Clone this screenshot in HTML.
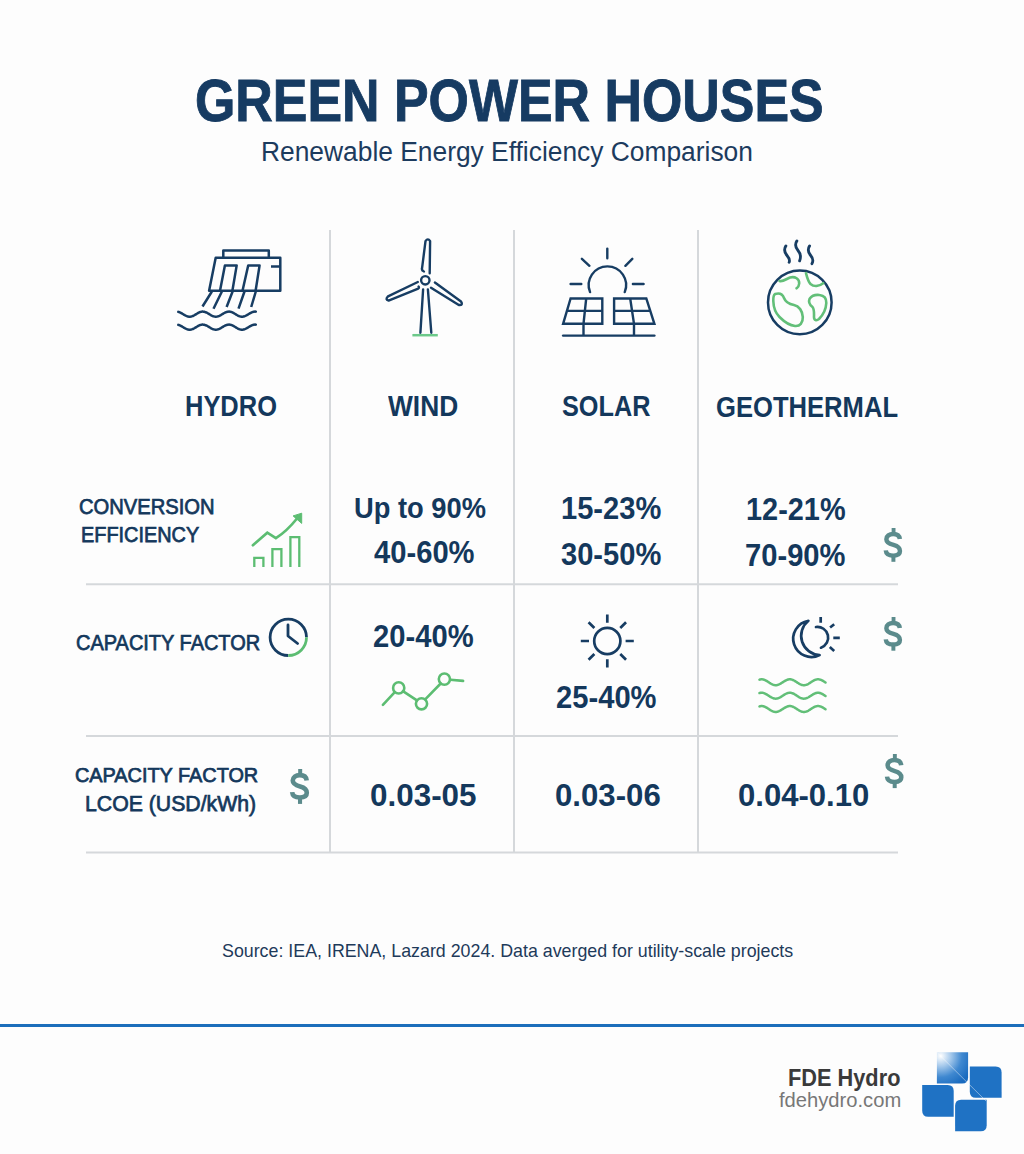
<!DOCTYPE html>
<html><head><meta charset="utf-8"><title>Green Power Houses</title>
<style>
html,body{margin:0;padding:0;background:#fdfdfd;}
#c{position:relative;width:1024px;height:1154px;overflow:hidden;background:#fdfdfd;font-family:"Liberation Sans",sans-serif;}
.t{position:absolute;white-space:nowrap;transform-origin:0 0;}
svg{position:absolute;left:0;top:0;}
</style></head><body><div id="c">
<svg width="1024" height="1154" viewBox="0 0 1024 1154">
<line x1="330" y1="230" x2="330" y2="853" stroke="#d5d8db" stroke-width="2"/>
<line x1="514" y1="230" x2="514" y2="853" stroke="#d5d8db" stroke-width="2"/>
<line x1="698" y1="230" x2="698" y2="853" stroke="#d5d8db" stroke-width="2"/>
<line x1="86" y1="584.3" x2="898" y2="584.3" stroke="#d5d8db" stroke-width="2"/>
<line x1="86" y1="736" x2="898" y2="736" stroke="#d5d8db" stroke-width="2"/>
<line x1="86" y1="852.5" x2="898" y2="852.5" stroke="#d5d8db" stroke-width="2"/>
<g fill="none" stroke="#173d63" stroke-width="2.5" stroke-linecap="butt" stroke-linejoin="round">
<path d="M223.3,257.7 V250.4 H268.8 V257.7"/>
<path d="M215.7,257.7 H280.3 V290.7 H209.1 Z"/>
<path d="M271,266.5 H280.3"/>
<path d="M220,290.7 L224.9,265.4 H236.7 L232.4,290.7"/>
<path d="M242.5,290.7 L248.2,265.4 H259.6 L255.6,290.7"/>
<path d="M211.9,291.5 L202.5,306.5 M221.9,291.5 L213.5,308.7 M232.6,291.5 L226.6,307 M244.5,291.5 L238.5,308.7 M255.8,291.5 L251.2,307"/>
<path d="M178.30,311.83 L178.80,311.98 L179.30,312.15 L179.80,312.36 L180.30,312.59 L180.80,312.84 L181.30,313.11 L181.80,313.40 L182.30,313.69 L182.80,314.00 L183.30,314.30 L183.80,314.61 L184.30,314.90 L184.80,315.19 L185.30,315.46 L185.80,315.71 L186.30,315.94 L186.80,316.15 L187.30,316.32 L187.80,316.47 L188.30,316.58 L188.80,316.65 L189.30,316.69 L189.80,316.70 L190.30,316.66 L190.80,316.60 L191.30,316.49 L191.80,316.35 L192.30,316.18 L192.80,315.99 L193.30,315.76 L193.80,315.51 L194.30,315.24 L194.80,314.96 L195.30,314.67 L195.80,314.36 L196.30,314.06 L196.80,313.75 L197.30,313.46 L197.80,313.17 L198.30,312.89 L198.80,312.64 L199.30,312.40 L199.80,312.19 L200.30,312.01 L200.80,311.86 L201.30,311.74 L201.80,311.66 L202.30,311.61 L202.80,311.60 L203.30,311.63 L203.80,311.69 L204.30,311.79 L204.80,311.92 L205.30,312.08 L205.80,312.27 L206.30,312.49 L206.80,312.74 L207.30,313.00 L207.80,313.28 L208.30,313.57 L208.80,313.88 L209.30,314.18 L209.80,314.49 L210.30,314.79 L210.80,315.08 L211.30,315.35 L211.80,315.61 L212.30,315.85 L212.80,316.07 L213.30,316.26 L213.80,316.41 L214.30,316.54 L214.80,316.63 L215.30,316.68 L215.80,316.70 L216.30,316.68 L216.80,316.63 L217.30,316.54 L217.80,316.41 L218.30,316.26 L218.80,316.07 L219.30,315.85 L219.80,315.61 L220.30,315.35 L220.80,315.08 L221.30,314.79 L221.80,314.49 L222.30,314.18 L222.80,313.88 L223.30,313.57 L223.80,313.28 L224.30,313.00 L224.80,312.74 L225.30,312.49 L225.80,312.27 L226.30,312.08 L226.80,311.92 L227.30,311.79 L227.80,311.69 L228.30,311.63 L228.80,311.60 L229.30,311.61 L229.80,311.66 L230.30,311.74 L230.80,311.86 L231.30,312.01 L231.80,312.19 L232.30,312.40 L232.80,312.64 L233.30,312.89 L233.80,313.17 L234.30,313.46 L234.80,313.75 L235.30,314.06 L235.80,314.36 L236.30,314.67 L236.80,314.96 L237.30,315.24 L237.80,315.51 L238.30,315.76 L238.80,315.99 L239.30,316.18 L239.80,316.35 L240.30,316.49 L240.80,316.60 L241.30,316.66 L241.80,316.70 L242.30,316.69 L242.80,316.65 L243.30,316.58 L243.80,316.47 L244.30,316.32 L244.80,316.15 L245.30,315.94 L245.80,315.71 L246.30,315.46 L246.80,315.19 L247.30,314.90 L247.80,314.61 L248.30,314.30 L248.80,314.00 L249.30,313.69 L249.80,313.40 L250.30,313.11 L250.80,312.84 L251.30,312.59 L251.80,312.36 L252.30,312.15 L252.80,311.98 L253.30,311.83 L253.80,311.72 L254.30,311.65 L254.80,311.61 L255.30,311.60 L255.80,311.64" stroke-linecap="round" stroke-linejoin="round"/>
<path d="M178.30,324.83 L178.80,324.98 L179.30,325.15 L179.80,325.36 L180.30,325.59 L180.80,325.84 L181.30,326.11 L181.80,326.40 L182.30,326.69 L182.80,327.00 L183.30,327.30 L183.80,327.61 L184.30,327.90 L184.80,328.19 L185.30,328.46 L185.80,328.71 L186.30,328.94 L186.80,329.15 L187.30,329.32 L187.80,329.47 L188.30,329.58 L188.80,329.65 L189.30,329.69 L189.80,329.70 L190.30,329.66 L190.80,329.60 L191.30,329.49 L191.80,329.35 L192.30,329.18 L192.80,328.99 L193.30,328.76 L193.80,328.51 L194.30,328.24 L194.80,327.96 L195.30,327.67 L195.80,327.36 L196.30,327.06 L196.80,326.75 L197.30,326.46 L197.80,326.17 L198.30,325.89 L198.80,325.64 L199.30,325.40 L199.80,325.19 L200.30,325.01 L200.80,324.86 L201.30,324.74 L201.80,324.66 L202.30,324.61 L202.80,324.60 L203.30,324.63 L203.80,324.69 L204.30,324.79 L204.80,324.92 L205.30,325.08 L205.80,325.27 L206.30,325.49 L206.80,325.74 L207.30,326.00 L207.80,326.28 L208.30,326.57 L208.80,326.88 L209.30,327.18 L209.80,327.49 L210.30,327.79 L210.80,328.08 L211.30,328.35 L211.80,328.61 L212.30,328.85 L212.80,329.07 L213.30,329.26 L213.80,329.41 L214.30,329.54 L214.80,329.63 L215.30,329.68 L215.80,329.70 L216.30,329.68 L216.80,329.63 L217.30,329.54 L217.80,329.41 L218.30,329.26 L218.80,329.07 L219.30,328.85 L219.80,328.61 L220.30,328.35 L220.80,328.08 L221.30,327.79 L221.80,327.49 L222.30,327.18 L222.80,326.88 L223.30,326.57 L223.80,326.28 L224.30,326.00 L224.80,325.74 L225.30,325.49 L225.80,325.27 L226.30,325.08 L226.80,324.92 L227.30,324.79 L227.80,324.69 L228.30,324.63 L228.80,324.60 L229.30,324.61 L229.80,324.66 L230.30,324.74 L230.80,324.86 L231.30,325.01 L231.80,325.19 L232.30,325.40 L232.80,325.64 L233.30,325.89 L233.80,326.17 L234.30,326.46 L234.80,326.75 L235.30,327.06 L235.80,327.36 L236.30,327.67 L236.80,327.96 L237.30,328.24 L237.80,328.51 L238.30,328.76 L238.80,328.99 L239.30,329.18 L239.80,329.35 L240.30,329.49 L240.80,329.60 L241.30,329.66 L241.80,329.70 L242.30,329.69 L242.80,329.65 L243.30,329.58 L243.80,329.47 L244.30,329.32 L244.80,329.15 L245.30,328.94 L245.80,328.71 L246.30,328.46 L246.80,328.19 L247.30,327.90 L247.80,327.61 L248.30,327.30 L248.80,327.00 L249.30,326.69 L249.80,326.40 L250.30,326.11 L250.80,325.84 L251.30,325.59 L251.80,325.36 L252.30,325.15 L252.80,324.98 L253.30,324.83 L253.80,324.72 L254.30,324.65 L254.80,324.61 L255.30,324.60 L255.80,324.64" stroke-linecap="round" stroke-linejoin="round"/>
</g>
<g fill="none" stroke="#173d63" stroke-width="2.4" stroke-linecap="round" stroke-linejoin="round">
<circle cx="425.3" cy="280.3" r="4.2"/>
<path d="M423.9,271.5 Q421.6,270.6 422,268.6 L425.5,241.2 Q427.9,237.6 430.1,241.2 L429.7,273.2"/>
<path d="M417.8,282 L388,296.3 Q384.8,299.6 388.6,300.6 L418.2,288.6 Q419.5,287.5 418.6,286.6"/>
<path d="M434.9,282.5 L461,301.5 Q463.6,305.4 458.8,305 L431,287.7"/>
<path d="M423.1,289.5 L420.4,332.7 M427.9,289.5 L431.3,332.7"/>
</g>
<line x1="412.4" y1="335.2" x2="437.8" y2="335.2" stroke="#6cc98a" stroke-width="2.5"/>
<g fill="none" stroke="#173d63" stroke-width="2.4" stroke-linecap="round" stroke-linejoin="round">
<path d="M590.06,292.1 A18.7,18.7 0 1 1 624.74,292.1"/>
<path d="M607.3,248.6 V258.3 M581.9,258.8 L589.4,265.8 M632.3,258.8 L625.4,265.8 M570.6,284 H581.3 M632.9,284 H643.6"/>
<path d="M570.6,298.5 H602.3 V323.8 H563.1 Z M567,310.9 H602.3 M586.2,298.5 L583.5,323.8 V335.1" stroke-linecap="butt" stroke-linejoin="miter"/>
<path d="M614.1,298.5 H646.3 L654.4,323.8 H614.1 Z M614.1,310.9 H650.3 M630.2,298.5 L634,323.8 V335.1" stroke-linecap="butt" stroke-linejoin="miter"/>
<path d="M563.1,335.6 H654.4"/>
</g>
<g fill="none" stroke-linecap="round" stroke-linejoin="round">
<circle cx="799.8" cy="302.4" r="31.8" stroke="#173d63" stroke-width="2.5"/>
<path d="M785.9,245.9 C783.5,249.5 784.5,252.5 787,255.5 C789.5,258.5 790.2,260.2 789.1,262.3" stroke="#173d63" stroke-width="2.8"/>
<path d="M796.9,240.9 C794.5,244.5 795.5,247.5 798,250.5 C800.5,253.5 801,257.5 799.6,260.9" stroke="#173d63" stroke-width="2.8"/>
<path d="M809.6,245.9 C807.2,249.5 808.2,252.5 810.7,255.5 C813.2,258.5 813.5,261 811.9,263.7" stroke="#173d63" stroke-width="2.8"/>
<path d="M779.6,281 C783,282 786,279 790,277.5 C795,276 799.5,279 799.2,283.5 C799,286.5 797.5,287.5 796.5,288.3" stroke="#62bf78" stroke-width="2.6"/>
<path d="M806,273.2 C807,277 808,281.5 810.5,284 C814,287 819,286.5 823.2,283.2" stroke="#62bf78" stroke-width="2.6"/>
<path d="M775,294.1 C779,292.8 782.5,294 784,298 C785.5,302 789,304 794,305 C799,306 802.5,311 802.8,317 C803,323 800,326.5 795,326 C790,325.5 784,321.5 779.5,317 C775,312.5 773.5,307 773.3,301 C773.2,297 773.5,295 775,294.1 Z" stroke="#62bf78" stroke-width="2.6"/>
<path d="M809.6,298.7 C812,295.5 816,294.5 819.5,295 C824,295.5 826.5,298 826.3,303 C826,309 823,315 819,319 C816.5,321 814,320.5 814,317 C814,313 814.5,309.5 812.5,307 C810,305 808,302.5 809.6,298.7 Z" stroke="#62bf78" stroke-width="2.6"/>
</g>
<g fill="none" stroke="#5cbd72" stroke-width="2.3" stroke-linejoin="miter">
<path d="M254.3,567 V557.8 H263.4 V567 M272.4,567 V549.2 H281.4 V567 M290.4,567 V537.1 H299.3 V567"/>
<path d="M252.9,545.2 L267.3,532.7 L275.9,538.2 C284,533 291,526 297,518.5" stroke-width="2.7" stroke-linecap="round"/>
</g>
<path d="M301.7,513.2 L293.1,515.9 L301.7,523.4 Z" fill="#5cbd72" stroke="#5cbd72" stroke-width="1" stroke-linejoin="round"/>
<g fill="none" stroke-width="2.8">
<path d="M306.5,637.3 A18.2,18.2 0 1 0 288.3,655.5" stroke="#173d63"/>
<path d="M306.5,637.3 A18.2,18.2 0 0 1 288.3,655.5" stroke="#5cbd72"/>
<path d="M288,625 V636 L297.6,643.5" stroke="#173d63" stroke-linecap="round" stroke-linejoin="round"/>
</g>
<g fill="none" stroke="#5cbd72" stroke-width="2.6" stroke-linecap="round">
<path d="M382.9,704.9 L394.8,692.1 M402.9,691.1 L416.9,700.3 M425.2,699.3 L440.7,683.5 M450.3,679.8 L463.1,680.9"/>
<circle cx="398.7" cy="687.9" r="5.6"/>
<circle cx="421.5" cy="703.8" r="5.6"/>
<circle cx="444.4" cy="679.1" r="5.6"/>
</g>
<g fill="none" stroke="#173d63" stroke-width="2.7" stroke-linecap="butt">
<circle cx="607.3" cy="641" r="13.1"/>
<path d="M625.60,641.00 L633.80,641.00 M620.24,653.94 L626.04,659.74 M607.30,659.30 L607.30,667.50 M594.36,653.94 L588.56,659.74 M589.00,641.00 L580.80,641.00 M594.36,628.06 L588.56,622.26 M607.30,622.70 L607.30,614.50 M620.24,628.06 L626.04,622.26"/>
</g>
<g fill="none" stroke="#173d63" stroke-width="2.7" stroke-linecap="round" stroke-linejoin="round">
<path d="M808.4,620.8 A18.2,18.2 0 1 0 819.6,655 A19.2,19.2 0 0 1 808.4,620.8 Z"/>
<path d="M816,627 A10.7,10.7 0 0 1 821,647.7"/>
<path d="M820.7,617 V622.8 M830.1,627.5 L834.2,624.3 M833.3,637.8 H839.8 M829.8,647.1 L834.2,651" stroke-linecap="butt"/>
</g>
<g fill="none" stroke="#62bf78" stroke-width="2.5" stroke-linecap="round"><path d="M759.50,679.62 L760.00,679.49 L760.50,679.39 L761.00,679.33 L761.50,679.30 L762.00,679.31 L762.50,679.36 L763.00,679.44 L763.50,679.56 L764.00,679.71 L764.50,679.89 L765.00,680.11 L765.50,680.35 L766.00,680.61 L766.50,680.89 L767.00,681.19 L767.50,681.50 L768.00,681.82 L768.50,682.15 L769.00,682.48 L769.50,682.81 L770.00,683.12 L770.50,683.43 L771.00,683.73 L771.50,684.00 L772.00,684.25 L772.50,684.48 L773.00,684.68 L773.50,684.85 L774.00,684.99 L774.50,685.10 L775.00,685.16 L775.50,685.20 L776.00,685.19 L776.50,685.15 L777.00,685.08 L777.50,684.97 L778.00,684.82 L778.50,684.64 L779.00,684.44 L779.50,684.20 L780.00,683.95 L780.50,683.67 L781.00,683.37 L781.50,683.06 L782.00,682.74 L782.50,682.41 L783.00,682.09 L783.50,681.76 L784.00,681.44 L784.50,681.13 L785.00,680.83 L785.50,680.55 L786.00,680.30 L786.50,680.06 L787.00,679.86 L787.50,679.68 L788.00,679.53 L788.50,679.42 L789.00,679.35 L789.50,679.31 L790.00,679.30 L790.50,679.34 L791.00,679.40 L791.50,679.51 L792.00,679.65 L792.50,679.82 L793.00,680.02 L793.50,680.25 L794.00,680.50 L794.50,680.77 L795.00,681.07 L795.50,681.38 L796.00,681.69 L796.50,682.02 L797.00,682.35 L797.50,682.68 L798.00,683.00 L798.50,683.31 L799.00,683.61 L799.50,683.89 L800.00,684.15 L800.50,684.39 L801.00,684.61 L801.50,684.79 L802.00,684.94 L802.50,685.06 L803.00,685.14 L803.50,685.19 L804.00,685.20 L804.50,685.17 L805.00,685.11 L805.50,685.01 L806.00,684.88 L806.50,684.72 L807.00,684.52 L807.50,684.30 L808.00,684.05 L808.50,683.78 L809.00,683.49 L809.50,683.19 L810.00,682.87 L810.50,682.55 L811.00,682.22 L811.50,681.89 L812.00,681.57 L812.50,681.25 L813.00,680.95 L813.50,680.66 L814.00,680.40 L814.50,680.15 L815.00,679.93 L815.50,679.75 L816.00,679.59 L816.50,679.46 L817.00,679.37 L817.50,679.32 L818.00,679.30 L818.50,679.32 L819.00,679.37 L819.50,679.46 L820.00,679.59 L820.50,679.75 L821.00,679.93 L821.50,680.15 L822.00,680.40 L822.50,680.66 L823.00,680.95 L823.50,681.25 L824.00,681.57 L824.50,681.89 L825.00,682.22 L825.50,682.55" stroke-linejoin="round"/><path d="M759.50,693.07 L760.00,692.94 L760.50,692.84 L761.00,692.78 L761.50,692.75 L762.00,692.76 L762.50,692.81 L763.00,692.89 L763.50,693.01 L764.00,693.16 L764.50,693.34 L765.00,693.56 L765.50,693.80 L766.00,694.06 L766.50,694.34 L767.00,694.64 L767.50,694.95 L768.00,695.27 L768.50,695.60 L769.00,695.93 L769.50,696.26 L770.00,696.57 L770.50,696.88 L771.00,697.18 L771.50,697.45 L772.00,697.70 L772.50,697.93 L773.00,698.13 L773.50,698.30 L774.00,698.44 L774.50,698.55 L775.00,698.61 L775.50,698.65 L776.00,698.64 L776.50,698.60 L777.00,698.53 L777.50,698.42 L778.00,698.27 L778.50,698.09 L779.00,697.89 L779.50,697.65 L780.00,697.40 L780.50,697.12 L781.00,696.82 L781.50,696.51 L782.00,696.19 L782.50,695.86 L783.00,695.54 L783.50,695.21 L784.00,694.89 L784.50,694.58 L785.00,694.28 L785.50,694.00 L786.00,693.75 L786.50,693.51 L787.00,693.31 L787.50,693.13 L788.00,692.98 L788.50,692.87 L789.00,692.80 L789.50,692.76 L790.00,692.75 L790.50,692.79 L791.00,692.85 L791.50,692.96 L792.00,693.10 L792.50,693.27 L793.00,693.47 L793.50,693.70 L794.00,693.95 L794.50,694.23 L795.00,694.52 L795.50,694.83 L796.00,695.14 L796.50,695.47 L797.00,695.80 L797.50,696.13 L798.00,696.45 L798.50,696.76 L799.00,697.06 L799.50,697.34 L800.00,697.60 L800.50,697.84 L801.00,698.06 L801.50,698.24 L802.00,698.39 L802.50,698.51 L803.00,698.59 L803.50,698.64 L804.00,698.65 L804.50,698.62 L805.00,698.56 L805.50,698.46 L806.00,698.33 L806.50,698.17 L807.00,697.97 L807.50,697.75 L808.00,697.50 L808.50,697.23 L809.00,696.94 L809.50,696.64 L810.00,696.32 L810.50,696.00 L811.00,695.67 L811.50,695.34 L812.00,695.02 L812.50,694.70 L813.00,694.40 L813.50,694.11 L814.00,693.85 L814.50,693.60 L815.00,693.38 L815.50,693.20 L816.00,693.04 L816.50,692.91 L817.00,692.82 L817.50,692.77 L818.00,692.75 L818.50,692.77 L819.00,692.82 L819.50,692.91 L820.00,693.04 L820.50,693.20 L821.00,693.38 L821.50,693.60 L822.00,693.85 L822.50,694.11 L823.00,694.40 L823.50,694.70 L824.00,695.02 L824.50,695.34 L825.00,695.67 L825.50,696.00" stroke-linejoin="round"/><path d="M759.50,706.37 L760.00,706.24 L760.50,706.14 L761.00,706.08 L761.50,706.05 L762.00,706.06 L762.50,706.11 L763.00,706.19 L763.50,706.31 L764.00,706.46 L764.50,706.64 L765.00,706.86 L765.50,707.10 L766.00,707.36 L766.50,707.64 L767.00,707.94 L767.50,708.25 L768.00,708.57 L768.50,708.90 L769.00,709.23 L769.50,709.56 L770.00,709.87 L770.50,710.18 L771.00,710.48 L771.50,710.75 L772.00,711.00 L772.50,711.23 L773.00,711.43 L773.50,711.60 L774.00,711.74 L774.50,711.85 L775.00,711.91 L775.50,711.95 L776.00,711.94 L776.50,711.90 L777.00,711.83 L777.50,711.72 L778.00,711.57 L778.50,711.39 L779.00,711.19 L779.50,710.95 L780.00,710.70 L780.50,710.42 L781.00,710.12 L781.50,709.81 L782.00,709.49 L782.50,709.16 L783.00,708.84 L783.50,708.51 L784.00,708.19 L784.50,707.88 L785.00,707.58 L785.50,707.30 L786.00,707.05 L786.50,706.81 L787.00,706.61 L787.50,706.43 L788.00,706.28 L788.50,706.17 L789.00,706.10 L789.50,706.06 L790.00,706.05 L790.50,706.09 L791.00,706.15 L791.50,706.26 L792.00,706.40 L792.50,706.57 L793.00,706.77 L793.50,707.00 L794.00,707.25 L794.50,707.52 L795.00,707.82 L795.50,708.13 L796.00,708.44 L796.50,708.77 L797.00,709.10 L797.50,709.43 L798.00,709.75 L798.50,710.06 L799.00,710.36 L799.50,710.64 L800.00,710.90 L800.50,711.14 L801.00,711.36 L801.50,711.54 L802.00,711.69 L802.50,711.81 L803.00,711.89 L803.50,711.94 L804.00,711.95 L804.50,711.92 L805.00,711.86 L805.50,711.76 L806.00,711.63 L806.50,711.47 L807.00,711.27 L807.50,711.05 L808.00,710.80 L808.50,710.53 L809.00,710.24 L809.50,709.94 L810.00,709.62 L810.50,709.30 L811.00,708.97 L811.50,708.64 L812.00,708.32 L812.50,708.00 L813.00,707.70 L813.50,707.41 L814.00,707.15 L814.50,706.90 L815.00,706.68 L815.50,706.50 L816.00,706.34 L816.50,706.21 L817.00,706.12 L817.50,706.07 L818.00,706.05 L818.50,706.07 L819.00,706.12 L819.50,706.21 L820.00,706.34 L820.50,706.50 L821.00,706.68 L821.50,706.90 L822.00,707.15 L822.50,707.41 L823.00,707.70 L823.50,708.00 L824.00,708.32 L824.50,708.64 L825.00,708.97 L825.50,709.30" stroke-linejoin="round"/></g>
<g transform="translate(883.6,528) scale(0.9912)" fill="#5b8b8c">
<rect x="8.1" y="0" width="3.9" height="5.5"/><rect x="7.9" y="28.6" width="4" height="5.5"/>
<path d="M16.4,11.2 C16,7.6 13.3,6 9.7,6 C5.8,6 2.8,8 2.8,11.3 C2.8,14.8 5.8,16 10,17.1 C14.2,18.2 16.5,19.8 16.5,23.3 C16.5,26.5 13.8,27.9 9.8,27.9 C5.5,27.9 2.5,26 2.2,22.6" fill="none" stroke="#5b8b8c" stroke-width="4.5"/>
</g>
<g transform="translate(883.6,617) scale(0.9883)" fill="#5b8b8c">
<rect x="8.1" y="0" width="3.9" height="5.5"/><rect x="7.9" y="28.6" width="4" height="5.5"/>
<path d="M16.4,11.2 C16,7.6 13.3,6 9.7,6 C5.8,6 2.8,8 2.8,11.3 C2.8,14.8 5.8,16 10,17.1 C14.2,18.2 16.5,19.8 16.5,23.3 C16.5,26.5 13.8,27.9 9.8,27.9 C5.5,27.9 2.5,26 2.2,22.6" fill="none" stroke="#5b8b8c" stroke-width="4.5"/>
</g>
<g transform="translate(884.8,754) scale(1.0000)" fill="#5b8b8c">
<rect x="8.1" y="0" width="3.9" height="5.5"/><rect x="7.9" y="28.6" width="4" height="5.5"/>
<path d="M16.4,11.2 C16,7.6 13.3,6 9.7,6 C5.8,6 2.8,8 2.8,11.3 C2.8,14.8 5.8,16 10,17.1 C14.2,18.2 16.5,19.8 16.5,23.3 C16.5,26.5 13.8,27.9 9.8,27.9 C5.5,27.9 2.5,26 2.2,22.6" fill="none" stroke="#5b8b8c" stroke-width="4.5"/>
</g>
<g transform="translate(289.9,769) scale(1.0235)" fill="#5b8b8c">
<rect x="8.1" y="0" width="3.9" height="5.5"/><rect x="7.9" y="28.6" width="4" height="5.5"/>
<path d="M16.4,11.2 C16,7.6 13.3,6 9.7,6 C5.8,6 2.8,8 2.8,11.3 C2.8,14.8 5.8,16 10,17.1 C14.2,18.2 16.5,19.8 16.5,23.3 C16.5,26.5 13.8,27.9 9.8,27.9 C5.5,27.9 2.5,26 2.2,22.6" fill="none" stroke="#5b8b8c" stroke-width="4.5"/>
</g>
<rect x="0" y="1024" width="1024" height="3" fill="#1c6ebb"/>
<defs><radialGradient id="lg" cx="0.12" cy="0.12" r="1.05">
<stop offset="0" stop-color="#ffffff"/><stop offset="0.3" stop-color="#a9cbec"/><stop offset="0.65" stop-color="#3f88d0"/><stop offset="1" stop-color="#1a6bbf"/></radialGradient></defs>
<path d="M936.9,1052.2 H968.1 V1077.5 Q968.1,1083.5 962.1,1083.5 H936.9 Z" fill="url(#lg)"/>
<path d="M969.8,1066.4 H995.6 Q1001.6,1066.4 1001.6,1072.4 V1097.8 H975.8 Q969.8,1097.8 969.8,1091.8 Z" fill="#1f72c4"/>
<path d="M922.2,1085.1 H947.7 Q953.7,1085.1 953.7,1091.1 V1116.7 H928.2 Q922.2,1116.7 922.2,1110.7 Z" fill="#1f72c4"/>
<path d="M961.1,1099.8 H986.7 V1125.3 Q986.7,1131.3 980.7,1131.3 H955.1 V1105.8 Q955.1,1099.8 961.1,1099.8 Z" fill="#1f72c4"/>
<path d="M937,1052.5 L986,1101" stroke="#ffffff" stroke-opacity="0.55" stroke-width="0.8"/>
</svg>
<div class="t" style="left:194.92px;top:72.34px;font-size:58.84px;line-height:58.84px;transform:scaleX(0.8822);color:#163b62;font-weight:bold;-webkit-text-stroke:0.9px #163b62">GREEN POWER HOUSES</div>
<div class="t" style="left:261.39px;top:138.74px;font-size:26.81px;line-height:26.81px;transform:scaleX(0.9839);color:#1c3b5e;font-weight:normal">Renewable Energy Efficiency Comparison</div>
<div class="t" style="left:185.22px;top:391.22px;font-size:29.57px;line-height:29.57px;transform:scaleX(0.8611);color:#14385c;font-weight:bold">HYDRO</div>
<div class="t" style="left:387.9px;top:391.37px;font-size:29.28px;line-height:29.28px;transform:scaleX(0.8996);color:#14385c;font-weight:bold">WIND</div>
<div class="t" style="left:562.44px;top:391.24px;font-size:29.71px;line-height:29.71px;transform:scaleX(0.8507);color:#14385c;font-weight:bold">SOLAR</div>
<div class="t" style="left:716.08px;top:392.54px;font-size:28.84px;line-height:28.84px;transform:scaleX(0.888);color:#14385c;font-weight:bold">GEOTHERMAL</div>
<div class="t" style="left:79.19px;top:495.82px;font-size:21.96px;line-height:21.96px;transform:scaleX(0.9178);color:#14385c;font-weight:normal;-webkit-text-stroke:0.75px #14385c">CONVERSION</div>
<div class="t" style="left:81.21px;top:524.37px;font-size:21.74px;line-height:21.74px;transform:scaleX(0.9145);color:#14385c;font-weight:normal;-webkit-text-stroke:0.75px #14385c">EFFICIENCY</div>
<div class="t" style="left:353.66px;top:492.89px;font-size:29.57px;line-height:29.57px;transform:scaleX(0.9236);color:#14385c;font-weight:bold">Up to 90%</div>
<div class="t" style="left:373.92px;top:537.21px;font-size:31.3px;line-height:31.3px;transform:scaleX(0.932);color:#14385c;font-weight:bold">40-60%</div>
<div class="t" style="left:560.65px;top:493.06px;font-size:31.59px;line-height:31.59px;transform:scaleX(0.9213);color:#14385c;font-weight:bold">15-23%</div>
<div class="t" style="left:560.82px;top:537.58px;font-size:32.17px;line-height:32.17px;transform:scaleX(0.905);color:#14385c;font-weight:bold">30-50%</div>
<div class="t" style="left:745.97px;top:494.11px;font-size:31.88px;line-height:31.88px;transform:scaleX(0.9064);color:#14385c;font-weight:bold">12-21%</div>
<div class="t" style="left:745.03px;top:539.41px;font-size:32.17px;line-height:32.17px;transform:scaleX(0.9067);color:#14385c;font-weight:bold">70-90%</div>
<div class="t" style="left:75.8px;top:631.57px;font-size:22.17px;line-height:22.17px;transform:scaleX(0.901);color:#14385c;font-weight:normal;-webkit-text-stroke:0.75px #14385c">CAPACITY FACTOR</div>
<div class="t" style="left:373.22px;top:621.24px;font-size:31.74px;line-height:31.74px;transform:scaleX(0.9201);color:#14385c;font-weight:bold">20-40%</div>
<div class="t" style="left:555.72px;top:681.92px;font-size:31.74px;line-height:31.74px;transform:scaleX(0.9192);color:#14385c;font-weight:bold">25-40%</div>
<div class="t" style="left:74.91px;top:764.98px;font-size:20.72px;line-height:20.72px;transform:scaleX(0.9587);color:#14385c;font-weight:normal;-webkit-text-stroke:0.75px #14385c">CAPACITY FACTOR</div>
<div class="t" style="left:84.9px;top:792.94px;font-size:22.61px;line-height:22.61px;transform:scaleX(0.9394);color:#14385c;font-weight:normal;-webkit-text-stroke:0.75px #14385c">LCOE (USD/kWh)</div>
<div class="t" style="left:369.84px;top:779.77px;font-size:31.88px;line-height:31.88px;transform:scaleX(0.9853);color:#14385c;font-weight:bold">0.03-05</div>
<div class="t" style="left:554.85px;top:779.76px;font-size:31.74px;line-height:31.74px;transform:scaleX(0.9823);color:#14385c;font-weight:bold">0.03-06</div>
<div class="t" style="left:737.56px;top:779.94px;font-size:31.88px;line-height:31.88px;transform:scaleX(0.9742);color:#14385c;font-weight:bold">0.04-0.10</div>
<div class="t" style="left:222.01px;top:941.97px;font-size:18.55px;line-height:18.55px;transform:scaleX(0.9611);color:#1e3a5a;font-weight:normal">Source: IEA, IRENA, Lazard 2024. Data averged for utility-scale projects</div>
<div class="t" style="left:788.28px;top:1066.02px;font-size:23.77px;line-height:23.77px;transform:scaleX(0.9155);color:#3a3a3a;font-weight:bold">FDE Hydro</div>
<div class="t" style="left:779.1px;top:1089.56px;font-size:20.87px;line-height:20.87px;transform:scaleX(0.9671);color:#777777;font-weight:normal">fdehydro.com</div>
</div></body></html>
